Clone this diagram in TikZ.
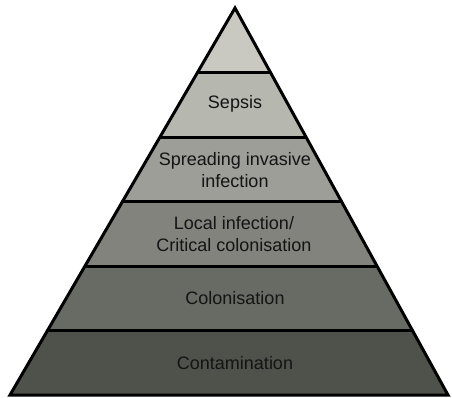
\documentclass[tikz,border=0pt]{standalone}
\usepackage{fontspec}
\setmainfont{Liberation Sans}
\usepackage{tikz}
\usetikzlibrary{calc}
\definecolor{layA}{HTML}{C9C9C1}
\definecolor{layB}{HTML}{B6B8AF}
\definecolor{layC}{HTML}{9C9E97}
\definecolor{layD}{HTML}{81837C}
\definecolor{layE}{HTML}{676B64}
\definecolor{layF}{HTML}{4F514B}
\tikzset{layertext/.style={font=\fontsize{18}{22}\selectfont, text=black!92, align=center}}

\begin{document}
\begin{tikzpicture}
[x=1pt,y=-1pt, line width=3pt, line join=miter]
\useasboundingbox (0,0) rectangle (452,397);
\coordinate (top) at (235,8);
\coordinate (bl) at (10,395);
\coordinate (br) at (448,395);

% layers, top to bottom
\foreach \i/\j/\c in {0/1/layA,1/2/layB,2/3/layC,3/4/layD,4/5/layE,5/6/layF}
  \fill[\c] ($(top)!\i/6!(bl)$) -- ($(top)!\i/6!(br)$)
        -- ($(top)!\j/6!(br)$) -- ($(top)!\j/6!(bl)$) -- cycle;

\foreach \k in {1,...,5}
  \draw ($(top)!\k/6!(bl)$) -- ($(top)!\k/6!(br)$);
\draw (top) -- (bl) -- (br) -- cycle;

\node (sepsis) at (235,104) [layertext] {Sepsis};
\node (spread) at (235,170) [layertext] {Spreading invasive\\infection};
\node (local) at (234,234) [layertext] {Local infection/\\Critical colonisation};
\node (colon) at (235,298) [layertext] {Colonisation};
\node (contam) at (235,363) [layertext] {Contamination};

\end{tikzpicture}
\end{document}
